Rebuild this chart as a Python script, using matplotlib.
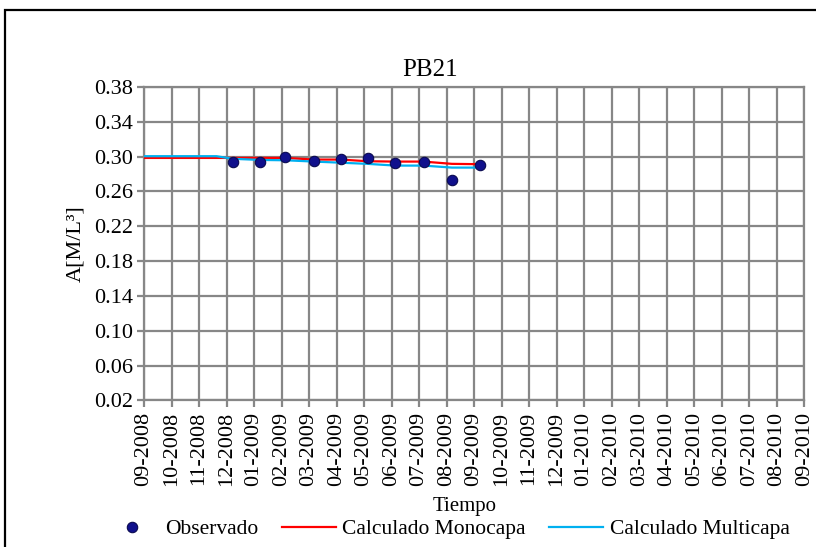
import datetime as dt
import calendar
import matplotlib
matplotlib.use("Agg")
import matplotlib.pyplot as plt
from matplotlib.patches import Rectangle

plt.rcParams['font.family'] = ['Liberation Serif', 'DejaVu Serif']

# Observed concentrations
obs_dates = ["2008-12-08", "2009-01-08", "2009-02-05", "2009-03-07", "2009-04-06",
             "2009-05-05", "2009-06-05", "2009-07-06", "2009-08-07", "2009-09-07"]
obs_vals = [0.294, 0.294, 0.300, 0.295, 0.297, 0.298, 0.293, 0.294, 0.273, 0.290]

# Model results (first vertex is the start of the simulation)
calc_dates = ["2008-09-01", "2008-11-20"] + obs_dates
mono_vals = [0.2985, 0.2985, 0.2985, 0.2985, 0.2985, 0.2966, 0.2966,
             0.2947, 0.2943, 0.2943, 0.2917, 0.2913]
multi_vals = [0.3005, 0.3005, 0.2975, 0.2962, 0.2958, 0.2943, 0.2930,
              0.2917, 0.2897, 0.2897, 0.2874, 0.2874]

start = dt.date(2008, 9, 1)
n_months = 24
y_ticks = [0.02, 0.06, 0.10, 0.14, 0.18, 0.22, 0.26, 0.30, 0.34, 0.38]


def month_pos(s):
    d = dt.date.fromisoformat(s)
    idx = (d.year - start.year) * 12 + d.month - start.month
    return idx + (d.day - 1) / calendar.monthrange(d.year, d.month)[1]


tick_labels = []
for i in range(n_months + 1):
    m = (start.month - 1 + i) % 12 + 1
    y = start.year + (start.month - 1 + i) // 12
    tick_labels.append(f"{m:02d}-{y}")

fig = plt.figure(figsize=(8.16, 5.47), dpi=100)
ax = fig.add_axes([0.1765, 0.268, 0.809, 0.573])

grid_col = "#878787"
ax.plot([month_pos(s) for s in calc_dates], mono_vals, color="#FF0000", lw=1.6,
        label="Calculado Monocapa", zorder=3)
ax.plot([month_pos(s) for s in calc_dates], multi_vals, color="#00B0F0", lw=1.6,
        label="Calculado Multicapa", zorder=3)
ax.plot([month_pos(s) for s in obs_dates], obs_vals, ls="none", marker="o", ms=7.5,
        color="#10108C", mec="#0A0A50", mew=0.8, label="Observado", zorder=4)

ax.set_xlim(0, n_months)
ax.set_ylim(0.02, 0.38)
ax.set_xticks(range(n_months + 1))
ax.set_xticklabels(tick_labels, rotation=90, fontsize=16)
ax.set_yticks(y_ticks)
ax.set_yticklabels([f"{v:.2f}" for v in y_ticks], fontsize=16)
ax.grid(True, color=grid_col, lw=1.6)
ax.set_axisbelow(True)
for sp in ax.spines.values():
    sp.set_color(grid_col)
    sp.set_linewidth(1.6)
ax.tick_params(colors=grid_col, labelcolor="black", length=5, width=1.6, pad=3)

fig.text(430 / 816, 1 - 70 / 547, "PB21", ha="center", va="center", fontsize=18)
ax.set_ylabel("A[M/L³]", fontsize=16, labelpad=6)
fig.text(465 / 816, 1 - 507 / 547, "Tiempo", ha="center", va="center", fontsize=15)

h, l = ax.get_legend_handles_labels()
order = [2, 0, 1]
fig.legend([h[i] for i in order], [l[i] for i in order], loc="center",
           bbox_to_anchor=(447 / 816, 1 - 529 / 547), ncol=3, frameon=False,
           fontsize=15.5, handlelength=2.5, columnspacing=1.1, handletextpad=0.3,
           borderpad=0, borderaxespad=0)

fig.add_artist(Rectangle((5 / 816, -0.2), 1.2, 1.2 - 10 / 547,
                         transform=fig.transFigure, fill=False,
                         edgecolor="black", lw=1.6, clip_on=False))

fig.savefig("out.png", dpi=100)
